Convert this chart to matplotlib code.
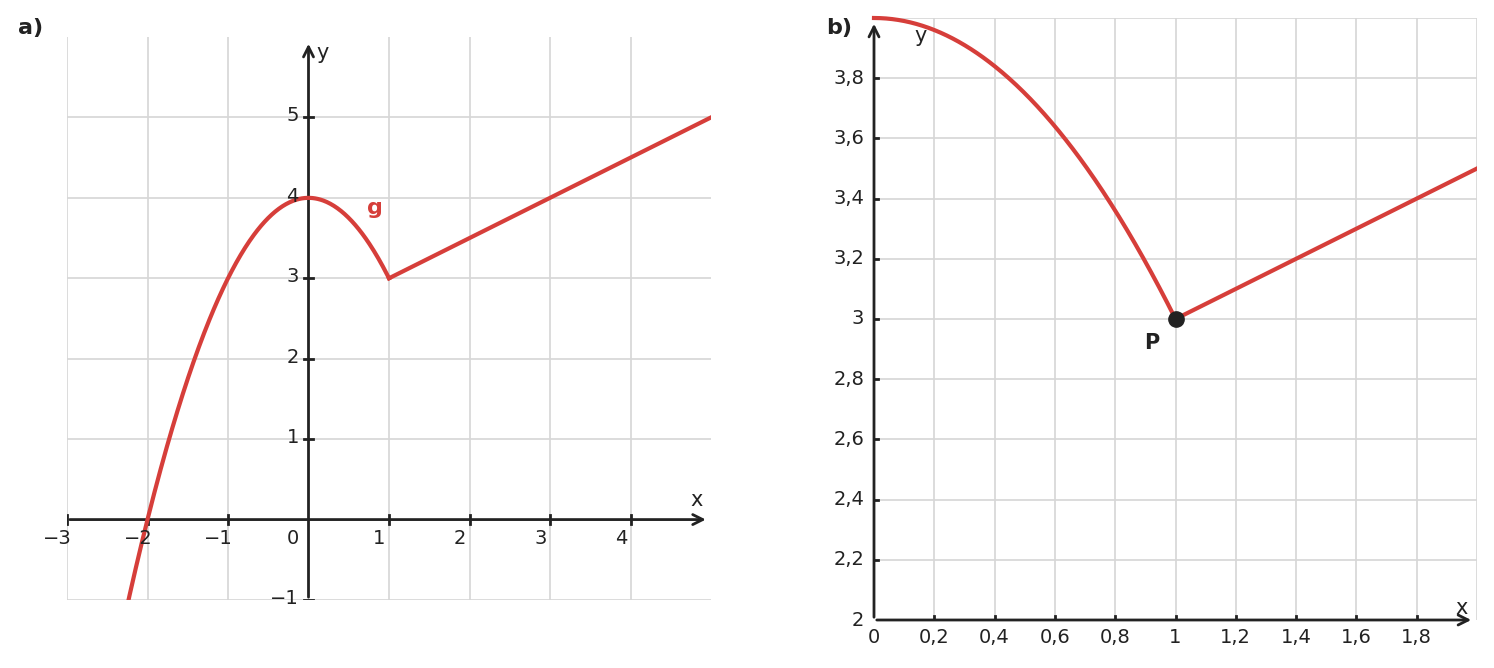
import numpy as np
import matplotlib
matplotlib.use("Agg")
import matplotlib.pyplot as plt

# piecewise function g: parabola a*x^2 + c for x<=1, line through knots for x>=1
parab_a = -1.0
parab_c = 4.0
line_x = [1, 5]
line_y = [3, 5]
point_P = (1, 3)

xt_a = [-3, -2, -1, 1, 2, 3, 4]
yt_a = [-1, 1, 2, 3, 4, 5]
xt_b = [0.2, 0.4, 0.6, 0.8, 1, 1.2, 1.4, 1.6, 1.8]
yt_b = [2.2, 2.4, 2.6, 2.8, 3, 3.2, 3.4, 3.6, 3.8]

RED = "#d63e3a"; DARK = "#222222"; GRID = "#d6d6d6"
plt.rcParams['font.family'] = ['DejaVu Sans']

def fmt(v):
    s = f"{v:g}".replace(".", ",")
    return s.replace("-", "\u2212")

fig = plt.figure(figsize=(14.94, 6.68), dpi=100)

# ---- panel a
ax = fig.add_axes([67/1494, 68/668, 644/1494, 563/668])
ax.set_xlim(-3, 5); ax.set_ylim(-1, 6)
ax.axis('off')
for x in [-3, -2, -1, 1, 2, 3, 4]:
    ax.plot([x, x], [-1, 6], color=GRID, lw=1.2, zorder=0)
for y in [-1, 1, 2, 3, 4, 5]:
    ax.plot([-3, 5], [y, y], color=GRID, lw=1.2, zorder=0)
xx = np.linspace(-2.3, 1, 300)
ax.plot(xx, parab_a*xx**2 + parab_c, color=RED, lw=3, zorder=3)
ax.plot(line_x, line_y, color=RED, lw=3, zorder=3)
ax.annotate("", xy=(4.97, 0), xytext=(-3, 0), arrowprops=dict(arrowstyle="->", color=DARK, lw=2, mutation_scale=18), zorder=2)
ax.annotate("", xy=(0, 5.95), xytext=(0, -1), arrowprops=dict(arrowstyle="->", color=DARK, lw=2, mutation_scale=18), zorder=2)
for x in xt_a:
    ax.plot([x, x], [-0.06, 0.06], color=DARK, lw=2)
    ax.text(x - 0.12, -0.12, fmt(x), ha='center', va='top', fontsize=14, color=DARK)
ax.text(-0.2, -0.12, "0", ha='center', va='top', fontsize=14, color=DARK)
for y in yt_a:
    ax.plot([-0.06, 0.06], [y, y], color=DARK, lw=2)
    ax.text(-0.12, y + 0.02, fmt(y), ha='right', va='center', fontsize=14, color=DARK)
ax.text(4.82, 0.12, "x", ha='center', va='bottom', fontsize=15, color=DARK)
ax.text(0.1, 5.8, "y", ha='left', va='center', fontsize=15, color=DARK)
ax.text(0.83, 3.87, "g", ha='center', va='center', fontsize=16, color=RED, fontweight='bold')
fig.text(18/1494, 1-28/668, "a)", fontsize=16, fontweight='bold', color=DARK, va='center')

# ---- panel b
bx = fig.add_axes([874/1494, 48/668, 603/1494, 602/668])
bx.set_xlim(0, 2); bx.set_ylim(2, 4)
bx.axis('off')
for x in xt_b + [2]:
    bx.plot([x, x], [2, 4], color=GRID, lw=1.2, zorder=0)
for y in yt_b + [4]:
    bx.plot([0, 2], [y, y], color=GRID, lw=1.2, zorder=0)
xx = np.linspace(0, 1, 300)
bx.plot(xx, parab_a*xx**2 + parab_c, color=RED, lw=3, zorder=3, clip_on=False)
bx.plot(line_x, line_y, color=RED, lw=3, zorder=3)
bx.plot(*point_P, 'o', color=DARK, ms=11, zorder=4)
bx.text(0.92, 2.92, "P", ha='center', va='center', fontsize=15, fontweight='bold', color=DARK)
bx.annotate("", xy=(1.99, 2), xytext=(0, 2), arrowprops=dict(arrowstyle="->", color=DARK, lw=2, mutation_scale=18), annotation_clip=False)
bx.annotate("", xy=(0, 3.99), xytext=(0, 2), arrowprops=dict(arrowstyle="->", color=DARK, lw=2, mutation_scale=18), annotation_clip=False)
for x in xt_b:
    bx.plot([x, x], [2, 2.012], color=DARK, lw=2)
    bx.text(x, 1.975, fmt(x), ha='center', va='top', fontsize=14, color=DARK)
bx.text(0, 1.975, "0", ha='center', va='top', fontsize=14, color=DARK)
for y in yt_b:
    bx.plot([0, 0.012], [y, y], color=DARK, lw=2)
    bx.text(-0.033, y, fmt(y), ha='right', va='center', fontsize=14, color=DARK)
bx.text(-0.033, 2.0, "2", ha='right', va='center', fontsize=14, color=DARK)
bx.text(1.95, 2.04, "x", ha='center', va='center', fontsize=15, color=DARK)
bx.text(0.155, 3.94, "y", ha='center', va='center', fontsize=15, color=DARK)
fig.text(826/1494, 1-28/668, "b)", fontsize=16, fontweight='bold', color=DARK, va='center')

fig.savefig("out.png", dpi=100)
